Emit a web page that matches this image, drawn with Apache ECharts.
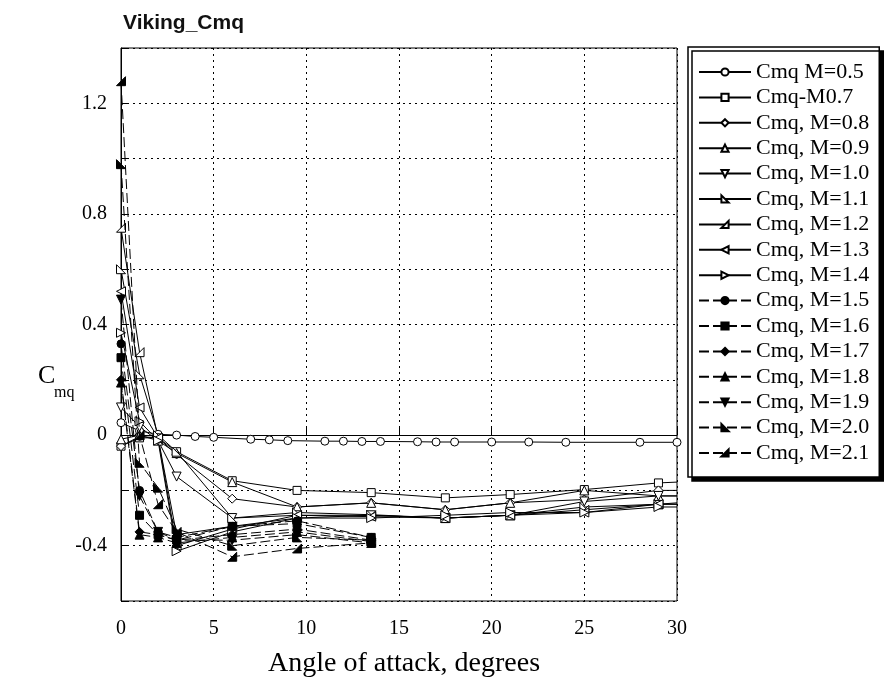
<!DOCTYPE html>
<html><head><meta charset="utf-8">
<script src="https://cdn.jsdelivr.net/npm/echarts@6/dist/echarts.min.js"></script>
<style>html,body{margin:0;padding:0;background:#fff}#c{width:885px;height:691px}</style>
</head><body><div id="c"></div>
<script>
// ---- data ----
const seriesNames = ['Cmq M=0.5','Cmq-M0.7','Cmq, M=0.8','Cmq, M=0.9','Cmq, M=1.0','Cmq, M=1.1','Cmq, M=1.2','Cmq, M=1.3','Cmq, M=1.4','Cmq, M=1.5','Cmq, M=1.6','Cmq, M=1.7','Cmq, M=1.8','Cmq, M=1.9','Cmq, M=2.0','Cmq, M=2.1'];
const alphaSub = [0,1,2,3,4,5,7,8,9,11,12,13,14,16,17,18,20,22,24,28,30];
const alphaTrans = [0,1,2,3,6,9.5,13.5,17.5,21,25,29,30];
const alphaSuper = [0,1,2,3,6,9.5,13.5];
const cmqM05 = [0.045,0.015,0.003,0.0,-0.005,-0.008,-0.015,-0.017,-0.02,-0.022,-0.022,-0.023,-0.023,-0.024,-0.025,-0.025,-0.025,-0.025,-0.026,-0.026,-0.026];
const cmqM07 = [-0.04,-0.01,-0.01,-0.06,-0.165,-0.2,-0.208,-0.227,-0.215,-0.197,-0.173,-0.17];
const cmqM08 = [-0.04,-0.005,-0.01,-0.07,-0.23,-0.26,-0.245,-0.27,-0.245,-0.233,-0.2,-0.2];
const cmqM09 = [-0.015,0.0,-0.02,-0.065,-0.17,-0.26,-0.245,-0.27,-0.245,-0.2,-0.22,-0.22];
const cmqM10 = [0.1,0.03,-0.02,-0.15,-0.3,-0.29,-0.29,-0.3,-0.29,-0.24,-0.22,-0.22];
const cmqM11 = [0.6,0.22,0.0,-0.06,-0.3,-0.28,-0.288,-0.3,-0.29,-0.26,-0.25,-0.25];
const cmqM12 = [0.75,0.3,-0.01,-0.36,-0.33,-0.3,-0.29,-0.3,-0.29,-0.27,-0.25,-0.245];
const cmqM13 = [0.52,0.1,-0.01,-0.4,-0.34,-0.29,-0.295,-0.3,-0.29,-0.28,-0.25,-0.25];
const cmqM14 = [0.37,0.05,-0.02,-0.42,-0.35,-0.3,-0.3,-0.29,-0.28,-0.28,-0.26,-0.26];
const cmqM15 = [0.33,-0.2,-0.35,-0.37,-0.33,-0.31,-0.37];
const cmqM16 = [0.28,-0.29,-0.36,-0.38,-0.33,-0.32,-0.37];
const cmqM17 = [0.2,-0.35,-0.36,-0.38,-0.36,-0.34,-0.38];
const cmqM18 = [0.19,-0.36,-0.37,-0.39,-0.37,-0.35,-0.385];
const cmqM19 = [0.49,-0.22,-0.35,-0.38,-0.38,-0.36,-0.39];
const cmqM20 = [0.98,-0.1,-0.19,-0.34,-0.4,-0.37,-0.38];
const cmqM21 = [1.28,0.0,-0.25,-0.35,-0.44,-0.41,-0.39];
const xTicks = [0,5,10,15,20,25,30];
const yTickLabels = ['-0.4','0','0.4','0.8','1.2'];

// ---- styling ----
const seriesValues = [cmqM05,cmqM07,cmqM08,cmqM09,cmqM10,cmqM11,cmqM12,cmqM13,cmqM14,cmqM15,cmqM16,cmqM17,cmqM18,cmqM19,cmqM20,cmqM21];
const alphaFor = i => i===0 ? alphaSub : (i<=8 ? alphaTrans : alphaSuper);
const symbols = [
  'circle','rect','diamond','triangle',
  'path://M0,0 L10,0 L5,10 Z',
  'path://M0,0 L0,10 L10,10 Z',
  'path://M10,0 L10,10 L0,10 Z',
  'path://M10,0 L0,5 L10,10 Z',
  'path://M0,0 L10,5 L0,10 Z',
  'circle','rect','diamond','triangle',
  'path://M0,0 L10,0 L5,10 Z',
  'path://M0,0 L0,10 L10,10 Z',
  'path://M10,0 L10,10 L0,10 Z'
];
const serif = 'Liberation Serif, Times New Roman, serif';

const series = seriesValues.map((vals, i) => {
  const xs = alphaFor(i);
  const filled = i >= 9;
  const baseSize = (i===0||i===1||i===9||i===10) ? 8 : 9;
  return {
    name: seriesNames[i],
    type: 'line',
    data: xs.map((x, k) => [x, vals[k]]),
    symbol: symbols[i],
    symbolSize: (v) => (i !== 0 && v[0] === 30) ? 0 : baseSize,
    showAllSymbol: true,
    clip: true,
    z: filled ? 3 : 2,
    lineStyle: { color: '#000', width: 1, type: filled ? [10,4] : 'solid' },
    itemStyle: { color: filled ? '#000' : '#fff', borderColor: '#000', borderWidth: 1 },
    emphasis: { disabled: true },
    animation: false
  };
});

const chart = echarts.init(document.getElementById('c'), null, { renderer: 'canvas' });
chart.setOption({
  backgroundColor: '#fff',
  animation: false,
  title: {
    text: 'Viking_Cmq', left: 118, top: 8,
    textStyle: { fontFamily: 'Liberation Sans, Arial, sans-serif', fontWeight: 'bold', fontSize: 21, color: '#111' }
  },
  grid: { left: 121, top: 48, width: 556, height: 553, show: true, borderColor: '#000', borderWidth: 1, backgroundColor: 'transparent' },
  xAxis: {
    type: 'value', min: 0, max: 30, interval: 5,
    axisLine: { show: true, lineStyle: { color: '#000', width: 1 } },
    axisTick: { show: true, inside: true, length: 8, lineStyle: { color: '#000' } },
    axisLabel: { color: '#000', fontFamily: serif, fontSize: 20, margin: 18,
      formatter: v => xTicks.includes(v) ? String(v) : '' },
    splitLine: { show: true, lineStyle: { color: '#000', width: 1, type: [2,4] } }
  },
  yAxis: {
    type: 'value', min: -0.6, max: 1.4, interval: 0.2,
    axisLine: { show: true, lineStyle: { color: '#000', width: 1 } },
    axisTick: { show: true, inside: true, length: 8, lineStyle: { color: '#000' } },
    axisLabel: { color: '#000', fontFamily: serif, fontSize: 20, margin: 14,
      formatter: v => { const s = String(Math.round(v*10)/10); return yTickLabels.includes(s) ? s : ''; } },
    splitLine: { show: true, lineStyle: { color: '#000', width: 1, type: [2,4] } }
  },
  legend: {
    orient: 'vertical', left: 688, top: 47,
    data: seriesNames,
    backgroundColor: '#fff', borderColor: '#000', borderWidth: 1.5,
    shadowColor: '#000', shadowBlur: 0, shadowOffsetX: 4, shadowOffsetY: 4,
    padding: [14, 10, 13, 10],
    itemWidth: 52, itemHeight: 9, itemGap: 3.4,
    textStyle: { fontFamily: serif, fontSize: 22, color: '#000', lineHeight: 22 },
    selectedMode: false
  },
  graphic: [
    { type: 'text', left: 38, top: 363, style: { text: 'C', font: '26px ' + serif, fill: '#000' } },
    { type: 'text', left: 54, top: 385, style: { text: 'mq', font: '16px ' + serif, fill: '#000' } },
    { type: 'text', left: 268, top: 650, style: { text: 'Angle of attack, degrees', font: '28px ' + serif, fill: '#000' } }
  ],
  series: series
});
</script>
</body></html>
